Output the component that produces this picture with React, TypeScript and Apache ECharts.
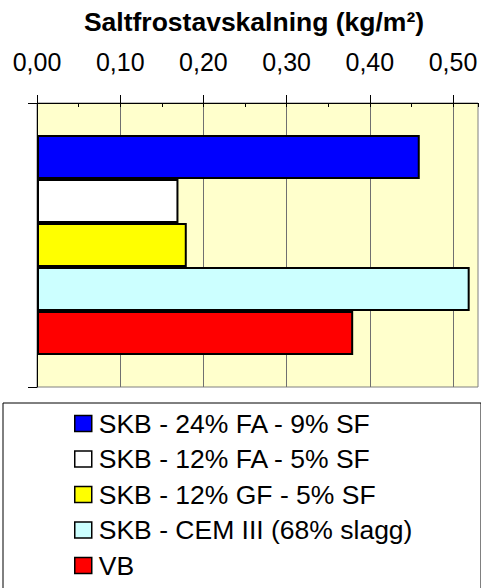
import React, { useEffect, useRef } from "react";
import * as echarts from "echarts";

const titleText = "Saltfrostavskalning (kg/m²)";
const categories = ["Saltfrost"];
const seriesNames = [
  "SKB - 24% FA - 9% SF",
  "SKB - 12% FA - 5% SF",
  "SKB - 12% GF - 5% SF",
  "SKB - CEM III (68% slagg)",
  "VB",
];
const seriesValues = [0.46, 0.17, 0.18, 0.52, 0.38];
const seriesColors = ["#0000FF", "#FFFFFF", "#FFFF00", "#CCFFFF", "#FF0000"];
const axisMin = 0;
const axisMax = 0.53;
const axisInterval = 0.1;

const FONT = "'Liberation Sans', Arial, sans-serif";

export default function App() {
  const ref = useRef<HTMLDivElement>(null);
  useEffect(() => {
    if (!ref.current) return;
    const chart = echarts.init(ref.current, undefined, { renderer: "svg" });
    const fmt = (v: number) => v.toFixed(2).replace(".", ",");
    chart.setOption({
      animation: false,
      backgroundColor: "#FFFFFF",
      textStyle: { fontFamily: FONT },
      title: {
        text: titleText,
        left: 249,
        textAlign: "center",
        top: 3,
        textStyle: { fontFamily: FONT, fontSize: 26.5, fontWeight: "bold", color: "#000" },
      },
      grid: {
        left: 37,
        top: 103,
        width: 441,
        height: 284,
        show: true,
        backgroundColor: "#FFFFCC",
        borderColor: "#808080",
        borderWidth: 1,
      },
      legend: {
        orient: "vertical",
        left: 69,
        top: 405,
        height: 183,
        itemWidth: 17,
        itemHeight: 16,
        itemGap: 8.5,
        icon: "rect",
        data: seriesNames,
        itemStyle: { borderColor: "#000", borderWidth: 1.5 },
        textStyle: { fontFamily: FONT, fontSize: 26.5, color: "#000", padding: [0, 0, 0, 2] },
      },
      graphic: [
        {
          type: "rect",
          shape: { x: 3, y: 403, width: 478, height: 186 },
          style: { fill: "none", stroke: "#000", lineWidth: 1 },
          z: -1,
        },
      ],
      xAxis: [
        {
          type: "value",
          position: "top",
          min: axisMin,
          max: axisMax,
          interval: axisInterval,
          axisLine: { show: true, lineStyle: { color: "#000", width: 1 } },
          axisTick: { show: true, inside: false, length: 8, lineStyle: { color: "#000" } },
          axisLabel: {
            show: true,
            margin: 29,
            showMaxLabel: false,
            formatter: fmt,
            fontFamily: FONT,
            fontSize: 25,
            color: "#000",
          },
          splitLine: { show: true, showMaxLine: false, lineStyle: { color: "#707070", width: 1 } },
        },
        {
          type: "value",
          position: "top",
          min: axisMin,
          max: axisMax,
          interval: axisInterval / 2,
          axisLine: { show: false },
          axisTick: { show: true, inside: true, length: 4, lineStyle: { color: "#000" } },
          axisLabel: { show: false },
          splitLine: { show: false },
        },
      ],
      yAxis: {
        type: "category",
        data: categories,
        axisLine: { show: true, lineStyle: { color: "#000", width: 1 } },
        axisTick: { show: true, inside: false, length: 9, lineStyle: { color: "#000" } },
        axisLabel: { show: false },
      },
      series: seriesNames.map((name, i) => ({
        name,
        type: "bar",
        xAxisIndex: 0,
        data: [seriesValues[i]],
        barWidth: 44,
        barGap: "0%",
        itemStyle: { color: seriesColors[i], borderColor: "#000", borderWidth: 2 },
      })),
    });
    return () => chart.dispose();
  }, []);
  return <div ref={ref} style={{ width: 481, height: 588, position: "absolute", left: 0, top: 0 }} />;
}
